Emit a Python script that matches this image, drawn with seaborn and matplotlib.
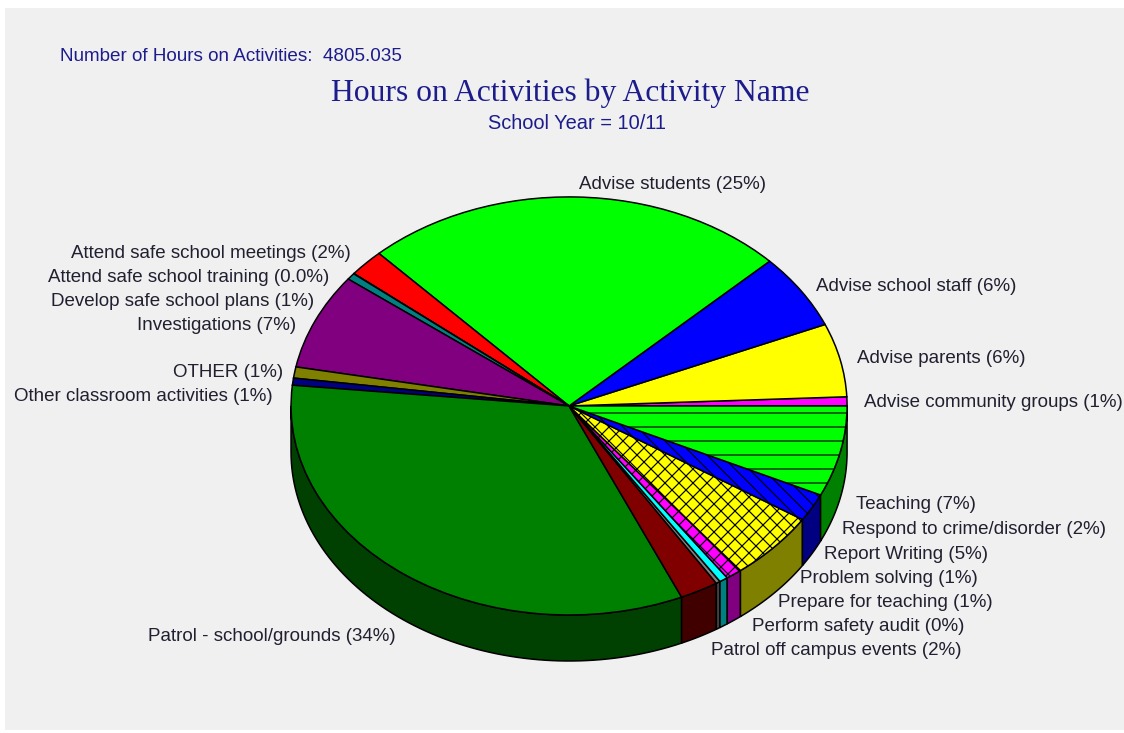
import numpy as np
import matplotlib
matplotlib.use("Agg")
import matplotlib.pyplot as plt
from matplotlib.patches import Rectangle
import seaborn as sns

# ---- data ----
activities = ["Advise community groups", "Advise parents", "Advise school staff", "Advise students",
              "Attend safe school meetings", "Attend safe school training", "Develop safe school plans",
              "Investigations", "OTHER", "Other classroom activities", "Patrol - school/grounds",
              "Patrol off campus events", "Perform safety audit", "Prepare for teaching",
              "Problem solving", "Report Writing", "Respond to crime/disorder", "Teaching"]
shares = [0.7, 5.67, 5.8, 24.8, 2.1, 0.02, 0.51, 7.39, 0.86, 0.55, 33.2, 2.25, 0.25, 0.5, 0.94, 5.28, 2.14, 7.0]
shown_pct = ["1%", "6%", "6%", "25%", "2%", "0.0%", "1%", "7%", "1%", "1%", "34%", "2%", "0%", "1%", "1%", "5%", "2%", "7%"]

# ---- styles / layout ----
top_colors = ["#ff00ff", "#ffff00", "#0000ff", "#00ff00", "#ff0000", "#008080", "#008080", "#800080",
              "#808000", "#000080", "#008000", "#800000", "#808080", "#00ffff", "#ff00ff", "#ffff00",
              "#0000ff", "#00ff00"]
hatches = [None] * 14 + ["xx", "xx", "\\\\", "-"]
label_anchor = [(864, 402), (857, 358), (816, 286), (579, 184), (71, 253), (48, 277), (51, 301), (137, 325),
                (173, 372), (14, 396), (148, 636), (711, 650), (752, 626), (778, 602), (800, 578), (824, 554),
                (842, 529), (856, 504)]
W, H, DPI = 1124, 733, 84
CX, CY, RX, RY, DEPTH = 569, 406, 278, 209, 46
px = lambda p: p * 72 / DPI
INK = "#1c1c8c"

sns.set_theme(style="white")
plt.rcParams["hatch.linewidth"] = 1.0
plt.rcParams["font.family"] = ["Liberation Sans", "DejaVu Sans"]

fig = plt.figure(figsize=((W + 0.1) / DPI, (H + 0.1) / DPI), dpi=DPI, facecolor="white")
fig.patches.append(Rectangle((5 / W, 3 / H), 1.0, 1 - 11 / H, transform=fig.transFigure,
                             facecolor="#f0f0f0", edgecolor="none", zorder=-5))

ax = fig.add_axes([(CX - RX) / W, 1 - (CY + RY) / H, 2 * RX / W, 2 * RY / H])
wedges, _ = ax.pie(shares, colors=top_colors, startangle=0, counterclock=True, radius=1.0,
                   wedgeprops=dict(edgecolor="black", linewidth=1.3))
ax.set_aspect("auto")
ax.set_xlim(-1, 1)
ax.set_ylim(-1, 1)
ax.patch.set_alpha(0)
for w, h in zip(wedges, hatches):
    w.set_clip_on(False)
    w.set_zorder(3)
    if h:
        w.set_hatch(h)

# side wall of the disc, derived from the shares
edges = np.concatenate([[0], np.cumsum(shares)]) / np.sum(shares) * 360
d = DEPTH / RY
for a0, a1, col in zip(edges[:-1], edges[1:], top_colors):
    lo, hi = max(a0, 180), min(a1, 360)
    if hi <= lo:
        continue
    t = np.radians(np.linspace(lo, hi, 80))
    xs = np.concatenate([np.cos(t), np.cos(t[::-1])])
    ys = np.concatenate([np.sin(t), np.sin(t[::-1]) - d])
    dark = tuple(c * 0.5 for c in matplotlib.colors.to_rgb(col))
    ax.fill(xs, ys, facecolor=dark, edgecolor="black", linewidth=1.3, clip_on=False, zorder=2)

# text overlay in pixel coordinates
tx = fig.add_axes([0, 0, 1, 1])
tx.set_xlim(0, W)
tx.set_ylim(H, 0)
tx.axis("off")
tx.patch.set_alpha(0)
for name, pct, (x, y) in zip(activities, shown_pct, label_anchor):
    tx.text(x, y, f"{name} ({pct})", fontsize=px(18.8), color="#202030", ha="left", va="center")
tx.text(60, 56, "Number of Hours on Activities:  4805.035", fontsize=px(18.85), color=INK, ha="left", va="center")
tx.text(570.5, 93.5, "Hours on Activities by Activity Name", fontsize=px(31.7), color=INK, ha="center", va="center",
        family="Liberation Serif")
tx.text(577, 123, "School Year = 10/11", fontsize=px(20), color=INK, ha="center", va="center")

fig.savefig("out.png", dpi=DPI, facecolor="white")
